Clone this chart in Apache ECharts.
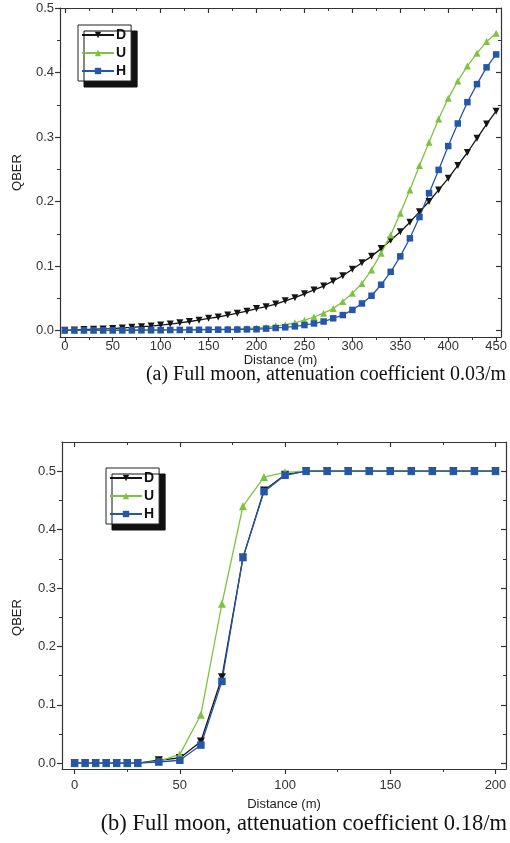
<!DOCTYPE html>
<html>
<head>
<meta charset="utf-8">
<script src="https://cdn.jsdelivr.net/npm/echarts@6/dist/echarts.min.js"></script>
<style>
html,body{margin:0;padding:0;background:#fff;}
#chart{width:510px;height:843px;}
</style>
</head>
<body>
<div id="chart"></div>
<script>
// ---------- data ----------
var seriesNames = ['D', 'U', 'H'];

// (a) attenuation 0.03/m
var distA = [0,10,20,30,40,50,60,70,80,90,100,110,120,130,140,150,160,170,180,190,200,210,220,230,240,250,260,270,280,290,300,310,320,330,340,350,360,370,380,390,400,410,420,430,440,450];
var dA = [0.0005,0.001,0.0015,0.002,0.0025,0.003,0.004,0.005,0.006,0.007,0.0085,0.010,0.012,0.014,0.016,0.019,0.021,0.024,0.027,0.030,0.034,0.037,0.041,0.046,0.051,0.057,0.063,0.069,0.077,0.085,0.095,0.105,0.115,0.127,0.140,0.153,0.168,0.184,0.200,0.218,0.236,0.256,0.276,0.298,0.320,0.340];
var uA = [0.0003,0.0003,0.0004,0.0004,0.0005,0.0005,0.0006,0.0007,0.0008,0.0009,0.001,0.0011,0.0013,0.0014,0.0016,0.0018,0.002,0.0023,0.0027,0.0032,0.004,0.005,0.007,0.009,0.012,0.016,0.021,0.027,0.034,0.045,0.058,0.073,0.094,0.120,0.148,0.182,0.218,0.256,0.292,0.328,0.360,0.387,0.410,0.430,0.448,0.461];
var hA = [0.0002,0.0002,0.0003,0.0003,0.0004,0.0004,0.0005,0.0005,0.0006,0.0007,0.0008,0.0009,0.001,0.0011,0.0012,0.0013,0.0014,0.0015,0.0016,0.0018,0.002,0.003,0.004,0.005,0.0065,0.0085,0.011,0.014,0.019,0.024,0.032,0.042,0.054,0.071,0.091,0.115,0.143,0.176,0.213,0.249,0.286,0.321,0.354,0.382,0.408,0.428];

// (b) attenuation 0.18/m
var distB = [0,5,10,15,20,25,30,40,50,60,70,80,90,100,110,120,130,140,150,160,170,180,190,200];
var dB = [0,0,0,0,0,0,0,0.005,0.009,0.037,0.147,0.352,0.467,0.494,0.5,0.5,0.5,0.5,0.5,0.5,0.5,0.5,0.5,0.5];
var uB = [0,0,0,0,0,0,0,0.003,0.015,0.083,0.273,0.440,0.490,0.498,0.5,0.5,0.5,0.5,0.5,0.5,0.5,0.5,0.5,0.5];
var hB = [0,0,0,0,0,0,0,0.002,0.005,0.031,0.140,0.352,0.465,0.493,0.5,0.5,0.5,0.5,0.5,0.5,0.5,0.5,0.5,0.5];

// tick labels
var xTicksA = [0,50,100,150,200,250,300,350,400,450];
var xMinorA = [25,75,125,175,225,275,325,375,425];
var xTicksB = [0,50,100,150,200];
var xMinorB = [25,75,125,175];
var yTicks = [0,0.1,0.2,0.3,0.4,0.5];
var yMinor = [0.05,0.15,0.25,0.35,0.45];

var xNameLabel = 'Distance (m)';
var yNameLabel = 'QBER';
var captionA = '(a) Full moon, attenuation coefficient 0.03/m';
var captionB = '(b) Full moon, attenuation coefficient 0.18/m';

// ---------- styling ----------
var AX = '#333';
var FONT = 'Liberation Sans, Arial, sans-serif';
var colors = {D: '#151515', U: '#7fc241', H: '#2656a8'};
var symbols = {D: 'triangle', U: 'triangle', H: 'rect'};
var rotates = {D: 180, U: 0, H: 0};

function xAxes(g, min, max, major, minor, nameGap, lblMargin) {
  var base = {type: 'value', gridIndex: g, min: min, max: max, splitLine: {show: false}};
  return [
    Object.assign({}, base, {position: 'bottom',
      axisLine: {show: true, onZero: false, lineStyle: {color: AX, width: 1.2}},
      axisTick: {show: true, inside: false, length: 5, customValues: major, lineStyle: {color: AX, width: 1.2}},
      axisLabel: {show: true, customValues: major, color: '#333', fontSize: 13, fontFamily: FONT, margin: lblMargin},
      name: xNameLabel, nameLocation: 'middle', nameGap: nameGap,
      nameTextStyle: {color: '#222', fontSize: 13, fontFamily: FONT}}),
    Object.assign({}, base, {position: 'bottom',
      axisLine: {show: false, onZero: false},
      axisTick: {show: true, inside: false, length: 3, customValues: minor, lineStyle: {color: AX, width: 1}},
      axisLabel: {show: false}}),
    Object.assign({}, base, {position: 'top',
      axisLine: {show: true, onZero: false, lineStyle: {color: AX, width: 1.2}},
      axisTick: {show: true, inside: true, length: 5, customValues: major, lineStyle: {color: AX, width: 1.2}},
      axisLabel: {show: false}}),
    Object.assign({}, base, {position: 'top',
      axisLine: {show: false, onZero: false},
      axisTick: {show: true, inside: true, length: 3, customValues: minor, lineStyle: {color: AX, width: 1}},
      axisLabel: {show: false}})
  ];
}
function yAxes(g, min, max, nameGap, namePad) {
  var base = {type: 'value', gridIndex: g, min: min, max: max, splitLine: {show: false}};
  return [
    Object.assign({}, base, {position: 'left',
      axisLine: {show: true, onZero: false, lineStyle: {color: AX, width: 1.2}},
      axisTick: {show: true, inside: false, length: 5, customValues: yTicks, lineStyle: {color: AX, width: 1.2}},
      axisLabel: {show: true, customValues: yTicks, color: '#333', fontSize: 13, fontFamily: FONT, margin: 6,
        formatter: function (v) { return v.toFixed(1); }},
      name: yNameLabel, nameLocation: 'middle', nameGap: nameGap, nameRotate: 90,
      nameTextStyle: {color: '#222', fontSize: 13, fontFamily: FONT, padding: namePad}}),
    Object.assign({}, base, {position: 'left',
      axisLine: {show: false, onZero: false},
      axisTick: {show: true, inside: false, length: 3, customValues: yMinor, lineStyle: {color: AX, width: 1}},
      axisLabel: {show: false}}),
    Object.assign({}, base, {position: 'right',
      axisLine: {show: true, onZero: false, lineStyle: {color: AX, width: 1.2}},
      axisTick: {show: true, inside: true, length: 5, customValues: yTicks, lineStyle: {color: AX, width: 1.2}},
      axisLabel: {show: false}}),
    Object.assign({}, base, {position: 'right',
      axisLine: {show: false, onZero: false},
      axisTick: {show: true, inside: true, length: 3, customValues: yMinor, lineStyle: {color: AX, width: 1}},
      axisLabel: {show: false}})
  ];
}

function mkSeries(name, xs, ys, axisIdx, size) {
  return {
    type: 'line', name: name, xAxisIndex: axisIdx, yAxisIndex: axisIdx,
    data: xs.map(function (x, i) { return [x, ys[i]]; }),
    symbol: symbols[name], symbolRotate: rotates[name], symbolSize: size,
    showSymbol: true,
    lineStyle: {color: colors[name], width: 1.3},
    itemStyle: {color: colors[name]},
    animation: false
  };
}

function mkLegend(left, top) {
  return {
    data: seriesNames, orient: 'vertical', left: left, top: top,
    itemWidth: 32, itemHeight: 8, itemGap: 4,
    padding: [3, 5, 3, 3],
    backgroundColor: '#fff', borderColor: '#222', borderWidth: 1,
    shadowColor: '#111', shadowBlur: 0, shadowOffsetX: 6, shadowOffsetY: 6,
    textStyle: {color: '#111', fontSize: 14, fontWeight: 'bold', fontFamily: FONT, padding: [0, 0, 0, -3]},
    selectedMode: false
  };
}

var chart = echarts.init(document.getElementById('chart'), null, {renderer: 'canvas'});
chart.setOption({
  backgroundColor: '#fff',
  animation: false,
  grid: [
    {left: 60, top: 8, width: 445, height: 329},
    {left: 62, top: 442, width: 444, height: 327}
  ],
  xAxis: xAxes(0, -5, 455, xTicksA, xMinorA, 15, 3).concat(xAxes(1, -6, 205, xTicksB, xMinorB, 29, 10)),
  yAxis: yAxes(0, -0.01, 0.5, 36, 0).concat(yAxes(1, -0.01, 0.55, 38, [0, 24, 0, 0])),
  legend: [mkLegend(78, 25), mkLegend(106, 468)],
  series: [
    mkSeries('D', distA, dA, 0, 7), mkSeries('U', distA, uA, 0, 7), mkSeries('H', distA, hA, 0, 6.5),
    mkSeries('D', distB, dB, 4, 8), mkSeries('U', distB, uB, 4, 8), mkSeries('H', distB, hB, 4, 7.5)
  ],
  graphic: [
    {type: 'text', right: 4, top: 365, style: {text: captionA, font: '20px "Liberation Serif", "Times New Roman", serif', fill: '#111'}},
    {type: 'text', right: 3, top: 813, style: {text: captionB, font: '22.5px "Liberation Serif", "Times New Roman", serif', fill: '#111'}}
  ]
});
</script>
</body>
</html>
